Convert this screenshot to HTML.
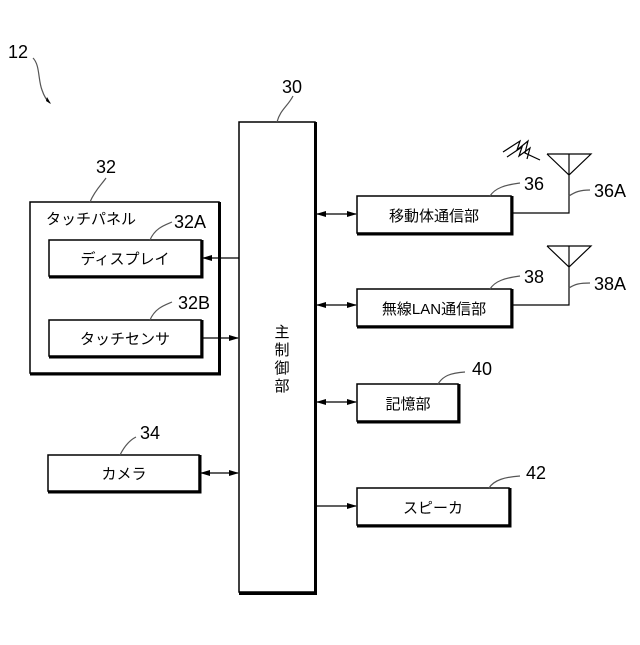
<!DOCTYPE html>
<html><head><meta charset="utf-8"><style>body{margin:0;background:#fff}</style></head><body>
<svg width="640" height="640" xmlns="http://www.w3.org/2000/svg" font-family="Liberation Sans, Noto Sans CJK JP, sans-serif">
<defs><marker id="a" markerWidth="10" markerHeight="8" refX="9" refY="4" orient="auto-start-reverse" markerUnits="userSpaceOnUse"><path d="M0,1 L10,4 L0,7 z" fill="#000"/></marker></defs>
<g fill="#fff" stroke="#000" stroke-width="1.5">
<rect x="239" y="122" width="76" height="470"/>
<rect x="30" y="202" width="189" height="171"/>
<rect x="49" y="240" width="152" height="36"/>
<rect x="49" y="320" width="152" height="36"/>
<rect x="48" y="455" width="151" height="36"/>
<rect x="357" y="196" width="154" height="37"/>
<rect x="357" y="289" width="154" height="37"/>
<rect x="357" y="384" width="101" height="37"/>
<rect x="357" y="488" width="152" height="37"/>
</g>
<g stroke="#000" stroke-width="3" fill="none">
<path d="M315.5,122 V593.5 H239"/>
<path d="M219.5,202 V374 H30"/>
<path d="M202,240 V277 H49"/>
<path d="M202,320 V357 H49"/>
<path d="M200,455 V492 H48"/>
<path d="M512,196 V234 H357"/>
<path d="M512,289 V327 H357"/>
<path d="M459,384 V422 H357"/>
<path d="M510,488 V526 H357"/>
</g>
<g stroke="#000" stroke-width="1.2" fill="none">
<line x1="239" y1="258" x2="203" y2="258" marker-end="url(#a)"/>
<line x1="202" y1="338" x2="238" y2="338" marker-end="url(#a)"/>
<line x1="201" y1="473" x2="238" y2="473" marker-start="url(#a)" marker-end="url(#a)"/>
<line x1="317" y1="214" x2="356" y2="214" marker-start="url(#a)" marker-end="url(#a)"/>
<line x1="317" y1="305" x2="356" y2="305" marker-start="url(#a)" marker-end="url(#a)"/>
<line x1="317" y1="402" x2="356" y2="402" marker-start="url(#a)" marker-end="url(#a)"/>
<line x1="317" y1="506" x2="356" y2="506" marker-end="url(#a)"/>
<path d="M512,213 H569 V154 M547,154 H591 L569,175 L547,154"/>
<path d="M512,305 H569 V246 M547,246 H591 L569,267 L547,246"/>
<path d="M503,152 L520,141 L517,150 L528,141 L525,153 L540,160"/>
<path d="M507,157 L522,147 L519,156 L530,148 L527,159"/>
<path d="M33,58 C40,65 38,80 42,90 C44,96 46,100 50,103" stroke="#555"/>
<path d="M277,122 C280,110 288,106 293,96" stroke="#555"/>
<path d="M90,202 C95,190 102,184 106,178" stroke="#555"/>
<path d="M150,240 C155,228 165,225 172,222" stroke="#555"/>
<path d="M150,320 C155,308 165,305 172,302" stroke="#555"/>
<path d="M120,455 C125,445 130,440 136,437" stroke="#555"/>
<path d="M490,196 C495,188 505,185 520,183" stroke="#555"/>
<path d="M490,289 C495,281 505,278 520,276" stroke="#555"/>
<path d="M438,384 C443,376 450,373 465,372" stroke="#555"/>
<path d="M489,488 C494,480 505,477 520,476" stroke="#555"/>
<path d="M569,196 C575,192 580,190 590,190" stroke="#555"/>
<path d="M569,288 C575,284 580,283 590,283" stroke="#555"/>
</g>
<path d="M46,101 L51,104 L47,97z" fill="#000"/>
<g font-size="18" fill="#000">
<text x="8" y="58">12</text>
<text x="282" y="93">30</text>
<text x="96" y="173">32</text>
<text x="174" y="228">32A</text>
<text x="178" y="309">32B</text>
<text x="140" y="439">34</text>
<text x="524" y="190">36</text>
<text x="594" y="197">36A</text>
<text x="524" y="283">38</text>
<text x="594" y="290">38A</text>
<text x="472" y="375">40</text>
<text x="526" y="479">42</text>
</g>
<g font-size="15" fill="#000">
<text x="46" y="224">タッチパネル</text>
<text x="125" y="264" text-anchor="middle">ディスプレイ</text>
<text x="125" y="344" text-anchor="middle">タッチセンサ</text>
<text x="124" y="479" text-anchor="middle">カメラ</text>
<text x="434" y="221" text-anchor="middle">移動体通信部</text>
<text x="434" y="314" text-anchor="middle">無線LAN通信部</text>
<text x="408" y="409" text-anchor="middle">記憶部</text>
<text x="433" y="513" text-anchor="middle">スピーカ</text>
<text x="282" y="337" text-anchor="middle">主</text>
<text x="282" y="355" text-anchor="middle">制</text>
<text x="282" y="373" text-anchor="middle">御</text>
<text x="282" y="391" text-anchor="middle">部</text>
</g>
</svg>
</body></html>
